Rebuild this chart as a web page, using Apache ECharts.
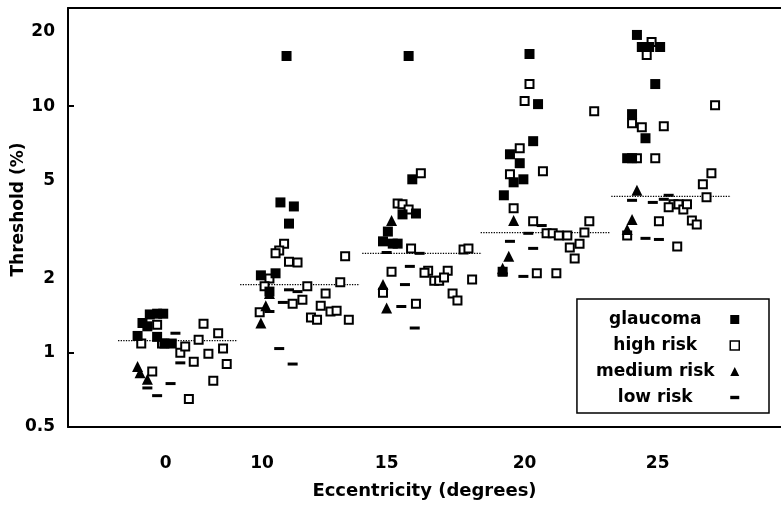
<!DOCTYPE html>
<html><head><meta charset="utf-8">
<script src="https://cdn.jsdelivr.net/npm/echarts@6/dist/echarts.min.js"></script>
<style>html,body{margin:0;padding:0;background:#fff}#c{width:781px;height:506px}</style>
</head><body><div id="c"></div>
<script>
// ---- data (x = jittered position within the eccentricity groups, y = threshold %) ----
const xTickLabels = ['0', '10', '15', '20', '25'];
const xTickPos = [-0.10, 0.69, 1.71, 2.84, 3.93];
const yTickLabels = [0.5, 1, 2, 5, 10, 20];

const groupMeans = [1.12, 1.89, 2.53, 3.07, 4.31];
const meanStart = [-0.49, 0.51, 1.51, 2.48, 3.55];
const meanEnd = [0.49, 1.49, 2.49, 3.54, 4.53];

const glaucoma = [
  [-0.23,1.43],[-0.17,1.44],[-0.12,1.44],[-0.29,1.32],[-0.25,1.28],[-0.33,1.17],[-0.17,1.16],[-0.11,1.09],[-0.05,1.09],
  [0.89,15.97],[0.84,4.07],[0.95,3.92],[0.91,3.34],[0.68,2.06],[0.80,2.10],[0.75,1.77],
  [1.89,15.97],[1.92,5.05],[1.84,3.64],[1.95,3.67],[1.72,3.10],[1.68,2.83],[1.76,2.77],[1.80,2.77],
  [2.88,16.27],[2.95,10.19],[2.91,7.21],[2.72,6.38],[2.80,5.87],[2.75,4.91],[2.83,5.05],[2.67,4.35],[2.66,2.13],
  [3.76,19.44],[3.80,17.37],[3.86,17.37],[3.95,17.37],[3.91,12.29],[3.72,9.28],[3.83,7.41],[3.68,6.15],[3.72,6.15]
];
const highRisk = [
  [-0.17,1.30],[-0.30,1.09],[-0.13,1.09],[0.02,1.00],[0.06,1.06],[0.17,1.13],[0.21,1.31],[0.33,1.20],[0.25,0.99],[0.37,1.04],[0.13,0.92],[0.40,0.90],[0.29,0.77],[0.09,0.65],[-0.21,0.84],
  [0.87,2.77],[0.83,2.60],[0.80,2.53],[0.91,2.34],[0.98,2.32],[1.37,2.46],[1.33,1.93],[1.06,1.86],[0.75,2.00],[0.71,1.86],[1.02,1.64],[0.94,1.58],[1.21,1.74],[1.17,1.55],[0.67,1.46],[1.09,1.39],[1.14,1.36],[1.25,1.47],[1.30,1.48],[1.40,1.36],
  [1.99,5.34],[1.80,4.03],[1.84,4.00],[1.89,3.81],[1.91,2.65],[2.34,2.62],[2.38,2.65],[1.75,2.13],[2.05,2.15],[2.02,2.11],[2.21,2.15],[2.10,1.96],[2.14,1.96],[2.18,2.02],[2.41,1.98],[1.68,1.75],[1.95,1.58],[2.25,1.74],[2.29,1.63],
  [2.88,12.29],[2.84,10.48],[3.41,9.54],[2.80,6.75],[2.72,5.29],[2.99,5.44],[2.75,3.85],[2.91,3.41],[3.37,3.41],[3.02,3.05],[3.07,3.05],[3.12,2.99],[3.19,2.99],[3.33,3.07],[3.29,2.77],[3.21,2.67],[3.25,2.41],[3.10,2.10],[2.94,2.10],
  [3.88,18.2],[3.84,16.12],[3.72,8.53],[3.80,8.22],[3.98,8.29],[3.76,6.15],[3.91,6.15],[4.40,10.09],[4.37,5.34],[4.30,4.82],[4.33,4.27],[4.06,4.00],[4.02,3.89],[4.10,4.00],[4.14,3.81],[4.17,4.00],[4.21,3.44],[4.25,3.31],[3.94,3.41],[4.09,2.70],[3.68,2.99]
];
const mediumRisk = [
  [-0.33,0.88],[-0.31,0.83],[-0.25,0.78],
  [0.68,1.32],[0.72,1.55],[0.75,1.74],
  [1.75,3.44],[1.68,1.89],[1.71,1.52],
  [2.75,3.44],[2.71,2.46],[2.66,2.20],
  [3.76,4.56],[3.72,3.47],[3.68,3.16]
];
const lowRisk = [
  [-0.02,1.20],[0.02,0.91],[-0.06,0.75],[-0.25,0.72],[-0.17,0.67],
  [0.91,1.80],[0.98,1.77],[0.86,1.60],[0.75,1.47],[0.83,1.04],[0.94,0.90],
  [1.71,2.55],[1.98,2.53],[1.90,2.24],[1.86,1.89],[1.83,1.54],[1.94,1.26],
  [2.87,3.05],[2.98,3.28],[2.72,2.83],[2.91,2.65],[2.83,2.04],[2.66,2.08],
  [3.72,4.15],[3.89,4.07],[3.98,4.19],[4.02,4.35],[3.83,2.91],[3.94,2.88]
];

// ---- chart ----
const FONT = '"DejaVu Sans", sans-serif';
const txt = { fontFamily: FONT, fontWeight: 'bold', fontSize: 17, color: '#000' };
const chart = echarts.init(document.getElementById('c'), null, { renderer: 'canvas' });

function labelFor(v) {
  let best = 0;
  xTickPos.forEach((p, i) => { if (Math.abs(p - v) < Math.abs(xTickPos[best] - v)) best = i; });
  return xTickLabels[best];
}

const meanSeries = groupMeans.map((m, i) => ({
  type: 'line', data: [[meanStart[i], m], [meanEnd[i], m]], symbol: 'none', silent: true, z: 1,
  lineStyle: { type: 'dotted', width: 1.3, color: '#000' }
}));

const option = {
  animation: false,
  backgroundColor: '#fff',
  grid: { left: 68, right: 0, top: 8, bottom: 79 },
  xAxis: [{
    type: 'value', min: -0.9, max: 4.94,
    axisLine: { onZero: false, lineStyle: { color: '#000', width: 2 } },
    axisTick: { show: false }, splitLine: { show: false },
    axisLabel: Object.assign({ customValues: xTickPos, formatter: labelFor, margin: 28 }, txt),
    name: 'Eccentricity (degrees)', nameLocation: 'middle', nameGap: 55,
    nameTextStyle: Object.assign({}, txt, { fontSize: 18 })
  }, {
    type: 'value', position: 'top', min: -0.9, max: 4.94,
    axisLine: { show: true, onZero: false, lineStyle: { color: '#000', width: 2 } },
    axisTick: { show: false }, axisLabel: { show: false }, splitLine: { show: false }
  }],
  yAxis: {
    type: 'log', logBase: 10, min: 0.5, max: 25, position: 'left',
    axisLine: { show: true, onZero: false, lineStyle: { color: '#000', width: 2 } },
    axisTick: { show: true, inside: true, length: 6, lineStyle: { color: '#000', width: 2 } },
    minorTick: { show: false },
    axisLabel: { show: false }, splitLine: { show: false },
    name: 'Threshold (%)', nameLocation: 'middle', nameGap: 41,
    nameTextStyle: Object.assign({ padding: [0, 0, 0, 16] }, txt)
  },
  legend: {
    orient: 'vertical', right: 12, top: 299, align: 'right',
    itemWidth: 9, itemHeight: 9, itemGap: 9,
    padding: [12, 29, 7, 19],
    borderColor: '#000', borderWidth: 1.5,
    formatter: n => '{a|' + n + '}',
    textStyle: Object.assign({ rich: { a: Object.assign({ width: 140, align: 'center' }, txt) } }, txt),
    data: [
      { name: 'glaucoma', icon: 'rect' },
      { name: 'high risk', icon: 'rect', itemStyle: { borderWidth: 1.5 } },
      { name: 'medium risk', icon: 'triangle' },
      { name: 'low risk', icon: 'path://M0 0H8V3H0Z' }
    ]
  },
  series: meanSeries.concat([
    { name: 'high risk', type: 'scatter', data: highRisk, symbol: 'rect', symbolSize: 8, z: 2,
      itemStyle: { color: '#fff', borderColor: '#000', borderWidth: 2, opacity: 1 } },
    { name: 'low risk', type: 'scatter', data: lowRisk, symbol: 'rect', symbolSize: [10, 3], z: 3,
      itemStyle: { color: '#000', opacity: 1 } },
    { name: 'medium risk', type: 'scatter', data: mediumRisk, symbol: 'triangle', symbolSize: 11, z: 4,
      itemStyle: { color: '#000', opacity: 1 } },
    { name: 'glaucoma', type: 'scatter', data: glaucoma, symbol: 'rect', symbolSize: 10, z: 5,
      itemStyle: { color: '#000', opacity: 1 } }
  ])
};
chart.setOption(option);

// y tick labels placed through the log axis scale
const yLabelGraphics = yTickLabels.map(v => ({
  type: 'text', x: 55, y: chart.convertToPixel({ yAxisIndex: 0 }, v), silent: true,
  style: { text: String(v), align: 'right', verticalAlign: 'middle', font: 'bold 17px ' + FONT, fill: '#000' }
}));
chart.setOption({ graphic: yLabelGraphics });
</script>
</body></html>
